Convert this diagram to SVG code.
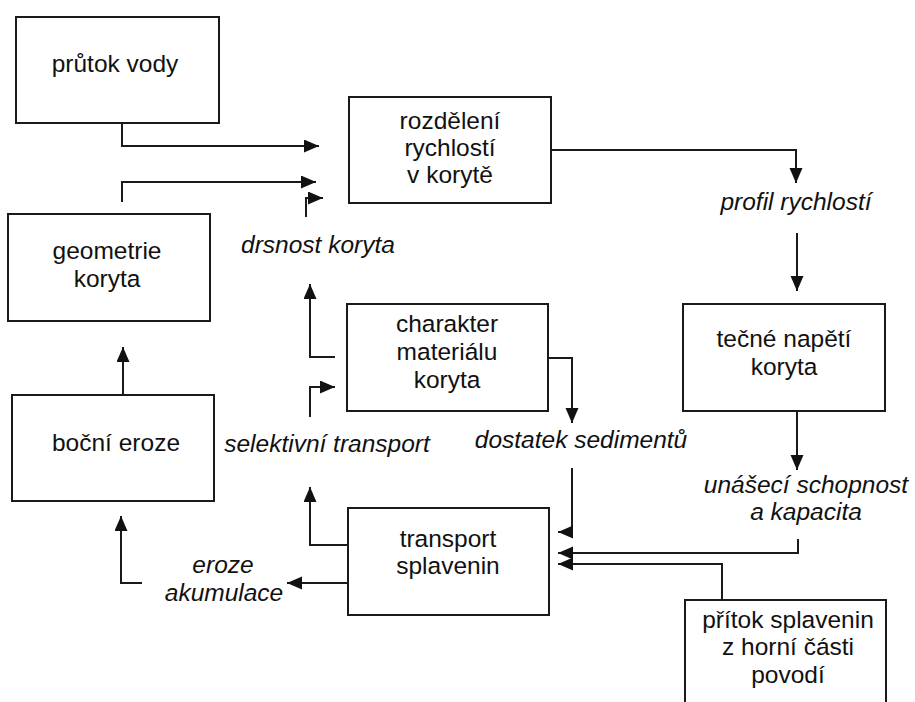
<svg xmlns="http://www.w3.org/2000/svg" width="915" height="702" viewBox="0 0 915 702">
  <style>
    .box { fill: #fff; stroke: #1a1a1a; stroke-width: 2; }
    .t { font-family: "Liberation Sans", Arial, sans-serif; font-size: 24.5px; fill: #111; text-anchor: middle; }
    .i { font-style: italic; }
    .c { fill: none; stroke: #1a1a1a; stroke-width: 2; marker-end: url(#ah); }
  </style>
  <defs>
    <marker id="ah" markerUnits="userSpaceOnUse" markerWidth="16" markerHeight="14" refX="15" refY="6.5" orient="auto">
      <path d="M0,0 L15,6.5 L0,13 z" fill="#111"/>
    </marker>
  </defs>

  <!-- connectors -->
  <g id="connectors">
    <path class="c" d="M122,123 V146 H319"/>
    <path class="c" d="M122,202 V182 H316"/>
    <path class="c" d="M306,217 V198 H323"/>
    <path class="c" d="M335,357 H310 V284"/>
    <path class="c" d="M310,417 V387 H335"/>
    <path class="c" d="M348,545 H310 V487"/>
    <path class="c" d="M123,395 V347"/>
    <path class="c" d="M142,583 H121 V516"/>
    <path class="c" d="M348,583 H287"/>
    <path class="c" d="M551,150 H796 V183"/>
    <path class="c" d="M797,233 V291"/>
    <path class="c" d="M797,411 V470"/>
    <path class="c" d="M548,358 H572 V423"/>
    <path class="c" d="M572,468 V532 H558"/>
    <path class="c" d="M798,539 V553 H558"/>
    <path class="c" d="M722,600 V564 H558"/>
  </g>

  <!-- boxes -->
  <g id="prutok-vody">
    <rect class="box" x="16" y="17" width="203" height="106"/>
    <text class="t" x="115" y="72">průtok vody</text>
  </g>
  <g id="rozdeleni-rychlosti">
    <rect class="box" x="349" y="97" width="202" height="106"/>
    <text class="t" x="450" y="129">rozdělení</text>
    <text class="t" x="450" y="156">rychlostí</text>
    <text class="t" x="450" y="183">v korytě</text>
  </g>
  <g id="geometrie-koryta">
    <rect class="box" x="8" y="214" width="202" height="107"/>
    <text class="t" x="107" y="259">geometrie</text>
    <text class="t" x="107" y="287">koryta</text>
  </g>
  <g id="charakter-materialu">
    <rect class="box" x="347" y="304" width="201" height="107"/>
    <text class="t" x="447" y="332">charakter</text>
    <text class="t" x="447" y="360">materiálu</text>
    <text class="t" x="447" y="388">koryta</text>
  </g>
  <g id="bocni-eroze">
    <rect class="box" x="12" y="395" width="202" height="106"/>
    <text class="t" x="116" y="451">boční eroze</text>
  </g>
  <g id="transport-splavenin">
    <rect class="box" x="348" y="508" width="201" height="107"/>
    <text class="t" x="448" y="547">transport</text>
    <text class="t" x="448" y="574">splavenin</text>
  </g>
  <g id="tecne-napeti">
    <rect class="box" x="683" y="304" width="202" height="107"/>
    <text class="t" x="784" y="347">tečné napětí</text>
    <text class="t" x="784" y="375">koryta</text>
  </g>
  <g id="pritok-splavenin">
    <rect class="box" x="685" y="600" width="201" height="112"/>
    <text class="t" x="788" y="628">přítok splavenin</text>
    <text class="t" x="788" y="655">z horní části</text>
    <text class="t" x="788" y="683">povodí</text>
  </g>

  <!-- italic labels -->
  <g id="drsnost-koryta"><text class="t i" x="318" y="253">drsnost koryta</text></g>
  <g id="profil-rychlosti"><text class="t i" x="796" y="210">profil rychlostí</text></g>
  <g id="selektivni-transport"><text class="t i" x="327" y="452">selektivní transport</text></g>
  <g id="dostatek-sedimentu"><text class="t i" x="581" y="448">dostatek sedimentů</text></g>
  <g id="unaseci-schopnost">
    <text class="t i" x="806" y="493">unášecí schopnost</text>
    <text class="t i" x="806" y="520">a kapacita</text>
  </g>
  <g id="eroze-akumulace">
    <text class="t i" x="223" y="573">eroze</text>
    <text class="t i" x="224" y="601">akumulace</text>
  </g>
</svg>
